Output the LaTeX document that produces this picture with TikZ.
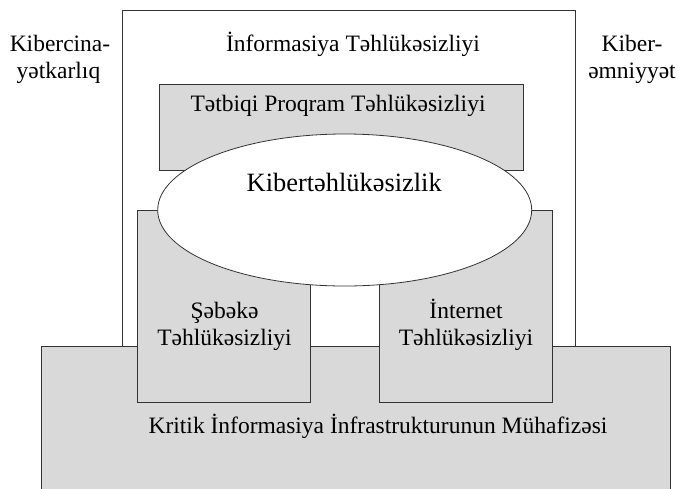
\documentclass[tikz,border=0pt]{standalone}
\usepackage{fontspec}
\setmainfont{Liberation Serif}
\usetikzlibrary{shapes.geometric}
\definecolor{boxgray}{HTML}{D9D9D9}
\definecolor{edge}{HTML}{333333}
\begin{document}
\begin{tikzpicture}[x=1pt,y=-1pt,
  boxline/.style={draw=edge, line width=0.9pt, rectangle, inner sep=0pt, outer sep=0pt},
  whitebox/.style={boxline, fill=white},
  graybox/.style={boxline, fill=boxgray},
  txt/.style={inner sep=0pt, anchor=base, align=center, font=\fontsize{23.5}{27.5}\selectfont},
  bigtxt/.style={inner sep=0pt, anchor=base, font=\fontsize{26.4}{30}\selectfont},
]
\useasboundingbox (0,0) rectangle (678,488);
% outer box: Informasiya Tehlukesizliyi
\node[whitebox, minimum width=452.7pt, minimum height=336.7pt] (outer) at (348.65,178.65) {};
% Tetbiqi Proqram box
\node[graybox, minimum width=364pt, minimum height=86.4pt] (app) at (341.3,127.5) {};
% big bottom box
\node[graybox, minimum width=629.7pt, minimum height=153.3pt] (crit) at (355.85,423.35) {};
% left and right boxes
\node[graybox, minimum width=172.7pt, minimum height=192.3pt] (net) at (223.65,306.15) {};
\node[graybox, minimum width=173pt, minimum height=192.3pt] (inet) at (465.8,306.15) {};
% ellipse
\node[ellipse, draw=edge, line width=0.8pt, fill=white, inner sep=0pt, minimum width=374pt, minimum height=152pt] (cyber) at (344.7,210) {};

% texts
\node[txt] (tleft1) at (60,51) {Kibercina-};
\node[txt] (tleft2) at (58.5,78.3) {yətkarlıq};
\node[txt] (tright1) at (632,51) {Kiber-};
\node[txt] (tright2) at (632,78.3) {əmniyyət};
\node[txt] (tinfo) at (353,51) {İnformasiya Təhlükəsizliyi};
\node[txt] (tapp) at (338,111.7) {Tətbiqi Proqram Təhlükəsizliyi};
\node[bigtxt] (tcyber) at (344.2,191) {Kibertəhlükəsizlik};
\node[txt] (tnet1) at (224.5,318) {Şəbəkə};
\node[txt] (tnet2) at (224.5,345) {Təhlükəsizliyi};
\node[txt] (tinet1) at (466,318) {İnternet};
\node[txt] (tinet2) at (466,345) {Təhlükəsizliyi};
\node[txt] (tcrit) at (378,433) {Kritik İnformasiya İnfrastrukturunun Mühafizəsi};
\end{tikzpicture}
\end{document}
